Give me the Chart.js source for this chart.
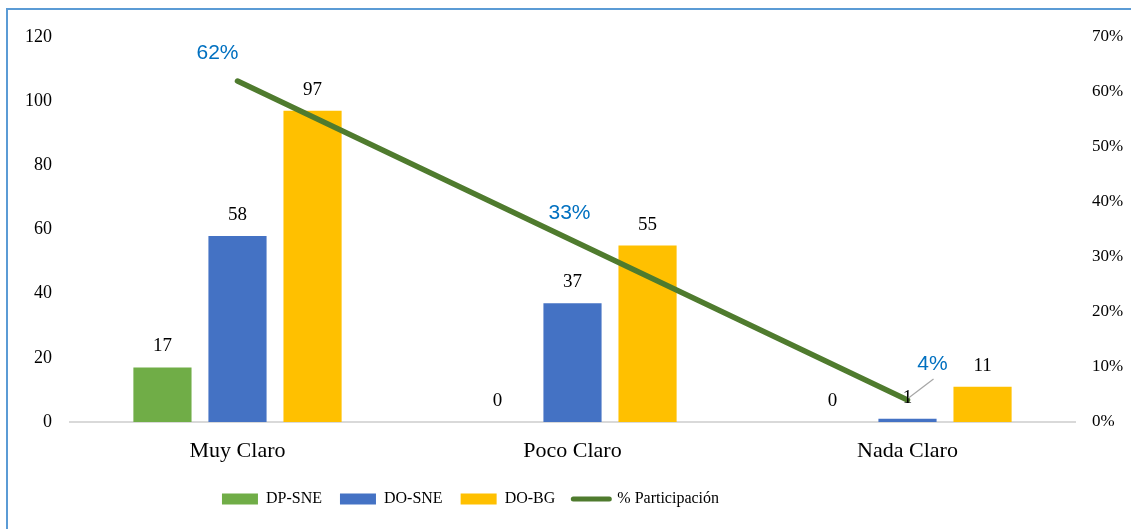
<!DOCTYPE html>
<html>
<head>
<meta charset="utf-8">
<script src="https://cdn.jsdelivr.net/npm/chart.js@4.4.0/dist/chart.umd.min.js"></script>
<style>
  html, body { margin: 0; padding: 0; background: #fff; overflow: hidden; }
  #wrap { position: relative; width: 1131px; height: 529px; }
  #chart { position: absolute; left: 0; top: 0; }
  #frame {
    position: absolute; left: 6px; top: 8px; width: 1200px; height: 600px;
    border-left: 2px solid #5B9BD5; border-top: 2px solid #5B9BD5;
    pointer-events: none;
  }
</style>
</head>
<body>
<div id="wrap">
  <canvas id="chart" width="1131" height="529"></canvas>
  <div id="frame"></div>
</div>
<script>
// Categories and series
const categories = ['Muy Claro', 'Poco Claro', 'Nada Claro'];
const dpSne = [17, 0, 0];
const doSne = [58, 37, 1];
const doBg = [97, 55, 11];
const participacion = [62, 33, 4];   // % Participación

// Axis ranges
const countMax = 120;
const countStep = 20;
const pctMax = 70;
const pctStep = 10;

const SERIF = '"Liberation Serif", "Times New Roman", serif';
const SANS = '"Liberation Sans", Arial, sans-serif';

// label placement for the percentage line (dx, dy from the point)
const pctLabelOffset = [[-20, -22], [-3, -22], [25, -30]];

// draws value labels above bars and the % labels near the line points
const valueLabels = {
  id: 'valueLabels',
  afterDatasetsDraw(chart) {
    const ctx = chart.ctx;
    ctx.save();
    ctx.textAlign = 'center';
    ctx.textBaseline = 'alphabetic';
    chart.data.datasets.forEach((ds, i) => {
      const meta = chart.getDatasetMeta(i);
      meta.data.forEach((el, j) => {
        const v = ds.data[j];
        if (ds.type === 'line') {
          const [dx, dy] = pctLabelOffset[j];
          if (Math.abs(dx) > 20) {
            // leader line
            ctx.strokeStyle = '#A6A6A6';
            ctx.lineWidth = 1.2;
            ctx.beginPath();
            ctx.moveTo(el.x + 1, el.y - 2);
            ctx.lineTo(el.x + dx + 1, el.y + dy + 9);
            ctx.stroke();
          }
          ctx.fillStyle = '#0070C0';
          ctx.font = '21px ' + SANS;
          ctx.fillText(v + '%', el.x + dx, el.y + dy);
        } else {
          ctx.fillStyle = '#000';
          ctx.font = '19px ' + SERIF;
          ctx.fillText(String(v), el.x, el.y - 16);
        }
      });
    });
    ctx.restore();
  }
};

// the legend row sits left of centre
const legendShift = {
  id: 'legendShift',
  afterLayout(chart) {
    chart.legend.left -= 95;
    chart.legend.right -= 95;
  }
};

new Chart(document.getElementById('chart').getContext('2d'), {
  data: {
    labels: categories,
    datasets: [
      { type: 'bar', label: 'DP-SNE', data: dpSne, backgroundColor: '#70AD47', yAxisID: 'y', order: 1,
        categoryPercentage: 0.672, barPercentage: 0.775 },
      { type: 'bar', label: 'DO-SNE', data: doSne, backgroundColor: '#4472C4', yAxisID: 'y', order: 1,
        categoryPercentage: 0.672, barPercentage: 0.775 },
      { type: 'bar', label: 'DO-BG', data: doBg, backgroundColor: '#FFC000', yAxisID: 'y', order: 1,
        categoryPercentage: 0.672, barPercentage: 0.775 },
      { type: 'line', label: '% Participación', data: participacion, yAxisID: 'y1', order: 0,
        borderColor: '#4F7B2E', backgroundColor: '#4F7B2E', borderWidth: 5.5,
        borderCapStyle: 'round', pointRadius: 0, tension: 0, fill: false }
    ]
  },
  options: {
    responsive: false,
    animation: false,
    layout: { padding: { top: 37, bottom: 12, left: 0, right: 0 } },
    plugins: {
      tooltip: { enabled: false },
      legend: {
        position: 'bottom',
        labels: {
          usePointStyle: true,
          pointStyleWidth: 36,
          boxWidth: 36,
          boxHeight: 11,
          padding: 18,
          color: '#000',
          font: { family: SERIF, size: 16 },
          generateLabels(chart) {
            const items = Chart.defaults.plugins.legend.labels.generateLabels(chart);
            return items.map(it => {
              const ds = chart.data.datasets[it.datasetIndex];
              if (ds.type === 'line') {
                it.pointStyle = 'line';
                it.lineWidth = 5;
                it.lineCap = 'round';
                it.strokeStyle = ds.borderColor;
              } else {
                it.pointStyle = 'rect';
                it.lineWidth = 0;
              }
              return it;
            }).sort((a, b) => a.datasetIndex - b.datasetIndex);
          }
        }
      }
    },
    scales: {
      x: {
        grid: { display: false },
        border: { display: true, color: '#D9D9D9', width: 2 },
        ticks: { color: '#000', font: { family: SERIF, size: 22 }, padding: 8 },
        afterFit(scale) { scale.height = 51; }
      },
      y: {
        position: 'left',
        min: 0, max: countMax,
        grid: { display: false, drawTicks: false },
        border: { display: false },
        ticks: { stepSize: countStep, color: '#000', font: { family: SERIF, size: 18 }, padding: 18 },
        afterFit(scale) { scale.width = 70; }
      },
      y1: {
        position: 'right',
        min: 0, max: pctMax,
        grid: { display: false, drawTicks: false },
        border: { display: false },
        ticks: { stepSize: pctStep, color: '#000', font: { family: SERIF, size: 17 }, padding: 17,
          callback: v => v + '%' },
        afterFit(scale) { scale.width = 56; }
      }
    }
  },
  plugins: [valueLabels, legendShift]
});
</script>
</body>
</html>
